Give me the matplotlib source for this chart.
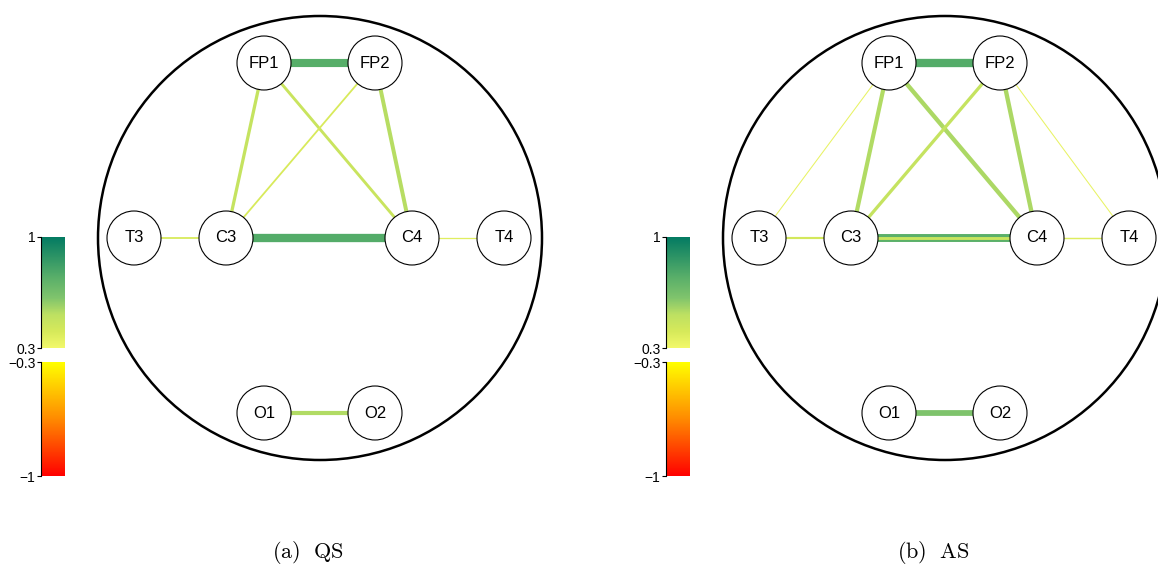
import matplotlib
matplotlib.use("Agg")
import matplotlib.pyplot as plt
import numpy as np
from matplotlib.colors import LinearSegmentedColormap, Normalize
from matplotlib.patches import Circle
import matplotlib.colorbar as mcolorbar

plt.rcParams['mathtext.fontset'] = 'cm'

# ---- data ----
channels = ["FP1", "FP2", "T3", "C3", "C4", "T4", "O1", "O2"]
panel_titles = ["(a)\\ \\ QS", "(b)\\ \\ AS"]

edges_qs = [("FP1", "FP2", 0.75), ("FP1", "C3", 0.48), ("FP1", "C4", 0.46),
            ("FP2", "C3", 0.40), ("FP2", "C4", 0.52), ("C3", "C4", 0.76),
            ("T3", "C3", 0.40), ("C4", "T4", 0.37), ("O1", "O2", 0.53)]
edges_as = [("FP1", "FP2", 0.76), ("FP1", "T3", 0.34), ("FP1", "C3", 0.53),
            ("FP1", "C4", 0.54), ("FP2", "C3", 0.48), ("FP2", "C4", 0.54),
            ("FP2", "T4", 0.34), ("C3", "C4", 0.74), ("C3", "C4", 0.46),
            ("T3", "C3", 0.42), ("C4", "T4", 0.38), ("O1", "O2", 0.62)]
panel_edges = [edges_qs, edges_as]

pos_ticks = [0.3, 1]
neg_ticks = [-1, -0.3]

# ---- layout (pixel coordinates within a panel) ----
node_xy = {"FP1": (264, 63), "FP2": (375, 63), "T3": (134, 238), "C3": (226, 238),
           "C4": (412, 238), "T4": (504, 238), "O1": (264, 413), "O2": (375, 413)}
panel_offsets = [0, 625]
head_center = (320, 238)
head_r = 222
node_r = 27

W, H = 1158, 567
fig = plt.figure(figsize=(W / 100, H / 100), dpi=100)
ax = fig.add_axes([0, 0, 1, 1])
ax.set_xlim(0, W)
ax.set_ylim(H, 0)
ax.set_aspect('equal')
ax.axis('off')

pos_cmap = LinearSegmentedColormap.from_list(
    "pos", [(0.0, "#f2f86a"), (0.15, "#d6e95a"), (0.3, "#bde062"),
            (0.45, "#80c46c"), (0.65, "#56ad69"), (1.0, "#037a62")])
neg_cmap = LinearSegmentedColormap.from_list(
    "neg", [(0.0, "#ff0000"), (0.5, "#ff8a00"), (1.0, "#ffff00")])
pos_norm = Normalize(0.3, 1)
neg_norm = Normalize(-1, -0.3)


def edge_color(v):
    return pos_cmap(pos_norm(v)) if v > 0 else neg_cmap(neg_norm(v))


for k, (off, edges, title) in enumerate(zip(panel_offsets, panel_edges, panel_titles)):
    ax.add_patch(Circle((head_center[0] + off, head_center[1]), head_r,
                        fill=False, ec='black', lw=1.8, zorder=1))
    for a, b, v in edges:
        xa, ya = node_xy[a]
        xb, yb = node_xy[b]
        lw = max(0.75, (abs(v) - 0.3) * 13)
        ax.plot([xa + off, xb + off], [ya, yb], color=edge_color(v), lw=lw,
                solid_capstyle='butt', zorder=2)
    for ch in channels:
        x, y = node_xy[ch]
        ax.add_patch(Circle((x + off, y), node_r, fc='white', ec='black', lw=0.8, zorder=3))
        ax.text(x + off, y, ch, ha='center', va='center', fontsize=12,
                family='Liberation Sans', zorder=4)
    ax.text(head_center[0] + off - 12, 552, r'$\mathrm{' + title + '}$',
            ha='center', va='center', fontsize=16)

    # colorbars
    cx = 41 + off
    cax1 = fig.add_axes([cx / W, 1 - 348 / H, 24 / W, 111 / H])
    cb1 = mcolorbar.ColorbarBase(cax1, cmap=pos_cmap, norm=pos_norm,
                                 ticks=pos_ticks, ticklocation='left')
    cax2 = fig.add_axes([cx / W, 1 - 476 / H, 24 / W, 114 / H])
    cb2 = mcolorbar.ColorbarBase(cax2, cmap=neg_cmap, norm=neg_norm,
                                 ticks=neg_ticks, ticklocation='left')
    for cb, labs in ((cb1, ["0.3", "1"]), (cb2, ["\u22121", "\u22120.3"])):
        cb.outline.set_visible(False)
        cb.ax.set_yticklabels(labs, family='Liberation Sans', fontsize=10)
        cb.ax.tick_params(length=3, width=0.8, pad=1)
        for s in cb.ax.spines.values():
            s.set_visible(False)
        cb.ax.spines['left'].set_visible(True)
        cb.ax.spines['left'].set_linewidth(0.8)

fig.savefig("out.png", dpi=100)
